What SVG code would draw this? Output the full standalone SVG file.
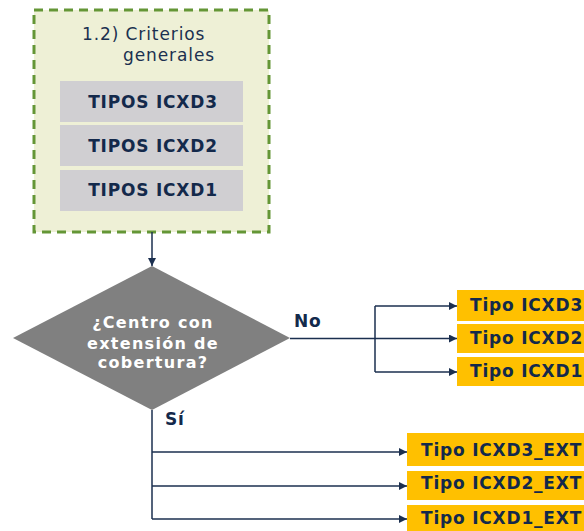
<svg xmlns="http://www.w3.org/2000/svg" width="584" height="531" viewBox="0 0 584 531">
  <defs>
    <marker id="arrow" viewBox="0 0 10 10" refX="10" refY="5" markerWidth="8" markerHeight="8" markerUnits="userSpaceOnUse" orient="auto">
      <path d="M0,0 L10,5 L0,10 z" fill="#1b2f4f"/>
    </marker>
    <style>
      .lbl { font-family: "DejaVu Sans", Verdana, sans-serif; font-weight: bold; font-size: 17px; letter-spacing: 0.8px; fill: #13294b; }
      .plain { font-family: "DejaVu Sans", Verdana, sans-serif; font-size: 17px; letter-spacing: 0.9px; fill: #1b3050; }
      .dia { font-family: "DejaVu Sans", Verdana, sans-serif; font-weight: bold; font-size: 16px; letter-spacing: 1.3px; fill: #ffffff; }
      .grey { fill: #d0cfd2; }
      .gold { fill: #ffc000; }
      .wire { fill: none; stroke: #1b2f4f; stroke-width: 1.5; }
    </style>
  </defs>

  <!-- Criteria container -->
  <g id="criterios">
    <rect x="34" y="10" width="235" height="222" fill="#eef0d6" stroke="#649636" stroke-width="3" stroke-dasharray="9,6"/>
    <text class="plain" x="82" y="40">1.2) Criterios</text>
    <text class="plain" x="123" y="61">generales</text>
  </g>
  <g id="tipos-icxd3">
    <rect class="grey" x="60" y="81" width="183" height="41"/>
    <text class="lbl" x="153" y="108" text-anchor="middle">TIPOS ICXD3</text>
  </g>
  <g id="tipos-icxd2">
    <rect class="grey" x="60" y="125" width="183" height="41"/>
    <text class="lbl" x="153" y="152" text-anchor="middle">TIPOS ICXD2</text>
  </g>
  <g id="tipos-icxd1">
    <rect class="grey" x="60" y="170" width="183" height="41"/>
    <text class="lbl" x="153" y="196" text-anchor="middle">TIPOS ICXD1</text>
  </g>

  <!-- Decision -->
  <g id="decision">
    <polygon points="152,266 290,338 152,410 13,338" fill="#808080"/>
    <text class="dia" x="153" y="328" text-anchor="middle">¿Centro con</text>
    <text class="dia" x="153" y="349" text-anchor="middle">extensión de</text>
    <text class="dia" x="153" y="368" text-anchor="middle">cobertura?</text>
  </g>

  <!-- Outcomes: No -->
  <g id="tipo-icxd3">
    <rect class="gold" x="457" y="290" width="127" height="31"/>
    <text class="lbl" x="470" y="311">Tipo ICXD3</text>
  </g>
  <g id="tipo-icxd2">
    <rect class="gold" x="457" y="324" width="127" height="29"/>
    <text class="lbl" x="470" y="344">Tipo ICXD2</text>
  </g>
  <g id="tipo-icxd1">
    <rect class="gold" x="457" y="357" width="127" height="29"/>
    <text class="lbl" x="470" y="377">Tipo ICXD1</text>
  </g>

  <!-- Outcomes: Sí -->
  <g id="tipo-icxd3-ext">
    <rect class="gold" x="407" y="433" width="177" height="33"/>
    <text class="lbl" x="421" y="456">Tipo ICXD3_EXT</text>
  </g>
  <g id="tipo-icxd2-ext">
    <rect class="gold" x="407" y="471" width="177" height="29"/>
    <text class="lbl" x="421" y="489">Tipo ICXD2_EXT</text>
  </g>
  <g id="tipo-icxd1-ext">
    <rect class="gold" x="407" y="505" width="177" height="26"/>
    <text class="lbl" x="421" y="524">Tipo ICXD1_EXT</text>
  </g>

  <!-- Connectors -->
  <g id="connectors">
    <path class="wire" d="M152,232 V266" marker-end="url(#arrow)"/>
    <path class="wire" d="M290,338.5 H375"/>
    <path class="wire" d="M375,306 V372"/>
    <path class="wire" d="M375,306 H457" marker-end="url(#arrow)"/>
    <path class="wire" d="M375,338.5 H457" marker-end="url(#arrow)"/>
    <path class="wire" d="M375,372 H457" marker-end="url(#arrow)"/>
    <path class="wire" d="M152,410 V519"/>
    <path class="wire" d="M152,452 H407" marker-end="url(#arrow)"/>
    <path class="wire" d="M152,486 H407" marker-end="url(#arrow)"/>
    <path class="wire" d="M152,519 H407" marker-end="url(#arrow)"/>
    <text class="lbl" x="294" y="327">No</text>
    <text class="lbl" x="165" y="425">Sí</text>
  </g>
</svg>
